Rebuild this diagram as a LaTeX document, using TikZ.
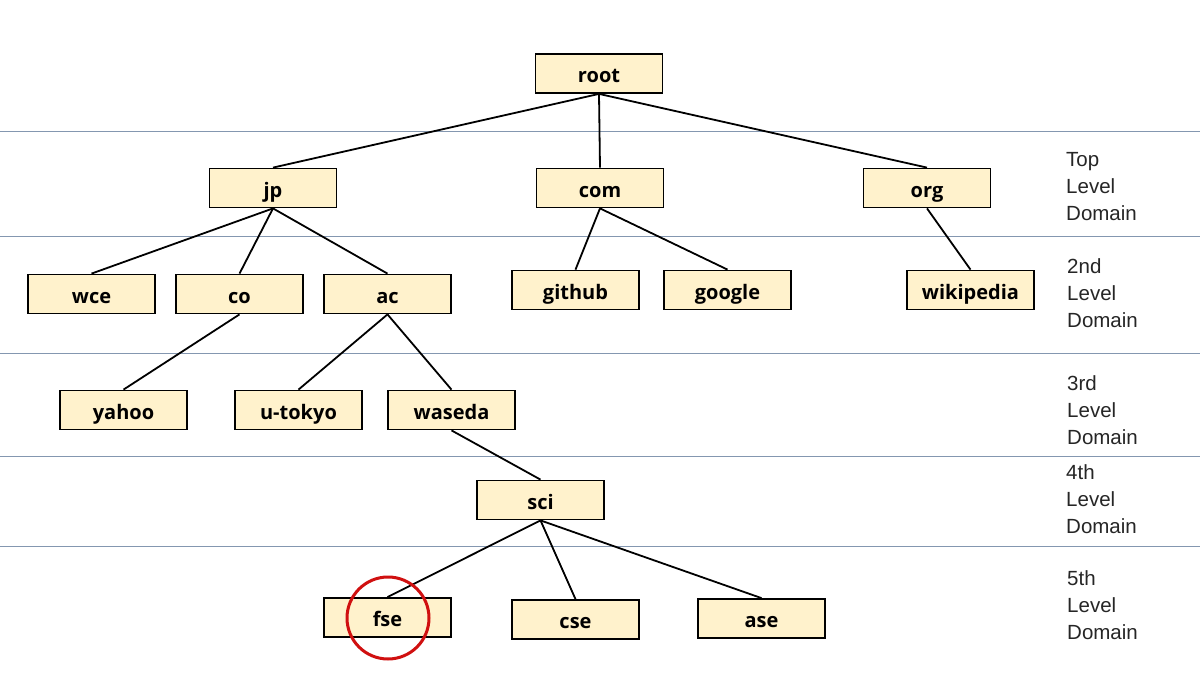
\documentclass[tikz,border=0pt]{standalone}
\usepackage{fontspec}
\setmainfont{Open Sans}
\newfontfamily\boxfont{Open Sans Bold}
\newfontfamily\lblfont{Liberation Sans}
\definecolor{boxfill}{HTML}{FFF2CC}
\definecolor{sepline}{HTML}{8497B0}
\definecolor{mark}{HTML}{D01010}
\begin{document}
\begin{tikzpicture}[x=1pt,y=-1pt,
  dom/.style={draw=black,fill=boxfill,line width=1.8pt,minimum width=127pt,minimum height=39pt,inner sep=0pt,text height=18pt,text depth=0pt,font=\boxfont\fontsize{20}{24}\selectfont},
  edge/.style={line width=1.8pt},
  sep/.style={draw=sepline,line width=1pt},
  lvl/.style={anchor=north west,align=left,inner sep=0pt,text=black!85,font=\lblfont\fontsize{20.5}{27}\selectfont}]
\useasboundingbox (0,0) rectangle (1200,675);
\fill[white] (0,0) rectangle (1200,675);
% separator lines
\foreach \yy [count=\i] in {131,236,353,456,546}{
  \coordinate (sl\i) at (0,\yy); \coordinate (sr\i) at (1200,\yy);
  \draw[sep] (sl\i) -- (sr\i);
}
% nodes
\node[dom] (root) at (599,73.5) {root};
\node[dom] (jp) at (273,188) {jp};
\node[dom] (com) at (600,188) {com};
\node[dom] (org) at (927,188) {org};
\node[dom] (wce) at (91.5,294) {wce};
\node[dom] (co) at (239.5,294) {co};
\node[dom] (ac) at (387.5,294) {ac};
\node[dom] (github) at (575.5,290) {github};
\node[dom] (google) at (727.5,290) {google};
\node[dom] (wikipedia) at (970.5,290) {wikipedia};
\node[dom] (yahoo) at (123.5,410) {yahoo};
\node[dom] (utokyo) at (298.5,410) {u-tokyo};
\node[dom] (waseda) at (451.5,410) {waseda};
\node[dom] (sci) at (540.5,500) {sci};
\node[dom] (fse) at (387.5,617.5) {fse};
\node[dom] (cse) at (575.5,619.5) {cse};
\node[dom] (ase) at (761.5,618.5) {ase};
% edges
\draw[edge] (root.south) -- (jp.north);
\draw[edge] (root.south) -- (com.north);
\draw[edge] (root.south) -- (org.north);
\draw[edge] (jp.south) -- (wce.north);
\draw[edge] (jp.south) -- (co.north);
\draw[edge] (jp.south) -- (ac.north);
\draw[edge] (com.south) -- (github.north);
\draw[edge] (com.south) -- (google.north);
\draw[edge] (org.south) -- (wikipedia.north);
\draw[edge] (co.south) -- (yahoo.north);
\draw[edge] (ac.south) -- (utokyo.north);
\draw[edge] (ac.south) -- (waseda.north);
\draw[edge] (waseda.south) -- (sci.north);
\draw[edge] (sci.south) -- (fse.north);
\draw[edge] (sci.south) -- (cse.north);
\draw[edge] (sci.south) -- (ase.north);
% highlight
\node[draw=mark,line width=3pt,circle,minimum size=82pt,inner sep=0pt] (hl) at (388,618) {};
% level labels
\node[lvl] (l1) at (1066,152) {Top\\Level\\Domain};
\node[lvl] (l2) at (1067,258) {2nd\\Level\\Domain};
\node[lvl] (l3) at (1067,375) {3rd\\Level\\Domain};
\node[lvl] (l4) at (1066,464) {4th\\Level\\Domain};
\node[lvl] (l5) at (1067,570) {5th\\Level\\Domain};
\end{tikzpicture}
\end{document}
